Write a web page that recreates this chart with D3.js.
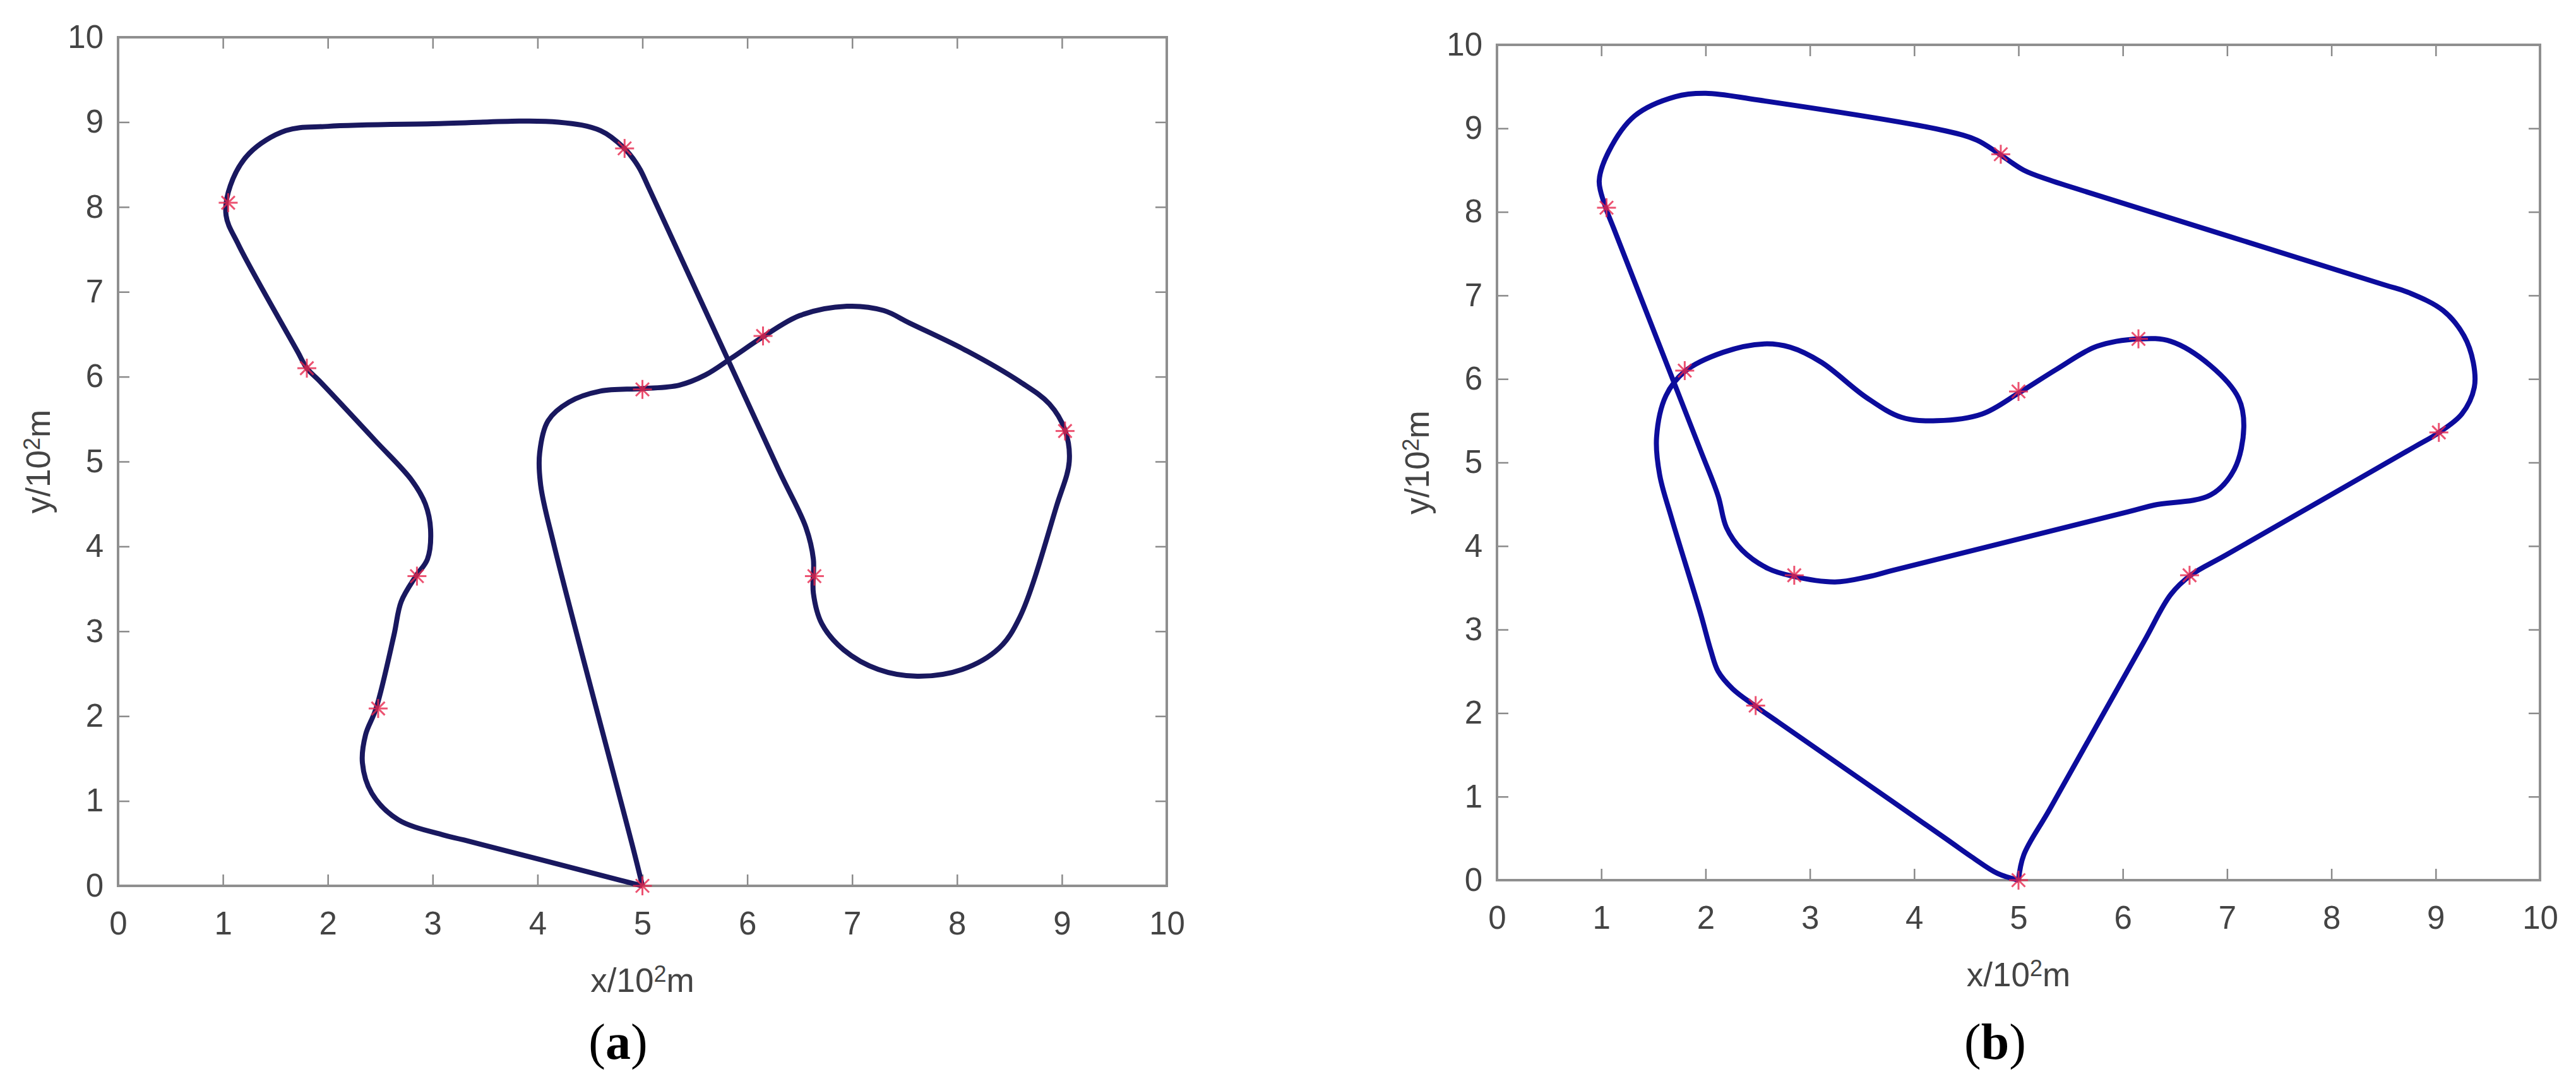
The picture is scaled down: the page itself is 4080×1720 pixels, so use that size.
<!DOCTYPE html>
<html>
<head>
<meta charset="utf-8">
<script src="https://cdn.jsdelivr.net/npm/d3@7"></script>
<style>
  body { margin: 0; background: #fff; }
  svg { display: block; }
</style>
</head>
<body>
<div id="chart"></div>
<script>
// tick values shared by both panels
var ticks = [0, 1, 2, 3, 4, 5, 6, 7, 8, 9, 10];

// waypoints (red asterisks), same in both panels
var wpX = [5.0, 2.48, 2.85, 1.8, 1.05, 4.83, 5.0, 6.15, 9.03, 6.64];
var wpY = [0.0, 2.09, 3.65, 6.1, 8.05, 8.69, 5.85, 6.48, 5.36, 3.65];

// track (a)  (start point listed twice -> sharp corner)
var pathAX = [5.0, 5.0, 4.92, 4.16, 4.03, 4.02, 4.1, 4.3, 4.6, 5.0, 5.35, 5.6, 5.85, 6.15, 6.5, 6.95, 7.3, 7.55, 8.1, 8.6,
  8.88, 9.03, 9.07, 8.95, 8.6, 8.4, 8.05, 7.62, 7.25, 6.92, 6.71, 6.63, 6.63, 6.56, 6.3, 5.07, 4.96, 4.82, 4.6, 4.2,
  3.0, 2.0, 1.6, 1.25, 1.07, 1.03, 1.15, 1.71, 1.8, 1.92, 2.45, 2.8, 2.93, 2.98, 2.95, 2.84, 2.7, 2.63, 2.46, 2.36,
  2.33, 2.42, 2.67, 3.1, 3.3, 4.8];
var pathAY = [0.0, 0.0, 0.4, 4.0, 4.72, 5.1, 5.48, 5.7, 5.83, 5.86, 5.9, 6.02, 6.22, 6.47, 6.72, 6.83, 6.78, 6.63, 6.3, 5.94,
  5.68, 5.37, 5.0, 4.48, 3.17, 2.8, 2.55, 2.47, 2.55, 2.78, 3.09, 3.45, 3.85, 4.22, 4.9, 8.2, 8.48, 8.7, 8.9, 9.0,
  8.98, 8.95, 8.9, 8.63, 8.25, 7.9, 7.55, 6.3, 6.1, 5.95, 5.25, 4.78, 4.5, 4.2, 3.85, 3.65, 3.35, 2.95, 2.09, 1.78,
  1.45, 1.09, 0.78, 0.6, 0.54, 0.063];

// track (b)
var pathBX = [5.0, 5.0, 5.05, 5.3, 6.2, 6.46, 6.65, 7.0, 8.8, 9.02, 9.25, 9.37, 9.36, 9.27, 9.07, 8.75, 8.5, 5.55, 5.3, 5.05,
  4.82, 4.6, 4.3, 2.5, 2.0, 1.71, 1.32, 1.07, 0.98, 1.04, 1.12, 1.95, 2.12, 2.2, 2.35, 2.6, 2.83, 3.24, 3.55, 3.8,
  6.05, 6.3, 6.84, 7.07, 7.16, 7.11, 6.84, 6.46, 6.16, 5.75, 5.37, 5.0, 4.65, 4.22, 3.88, 3.54, 3.11, 2.81, 2.56, 2.17,
  1.8, 1.62, 1.53, 1.56, 1.67, 1.95, 2.05, 2.12, 2.26, 2.47, 2.7, 4.3, 4.55, 4.8];
var pathBY = [0.0, 0.0, 0.3, 0.85, 2.85, 3.42, 3.65, 3.9, 5.19, 5.35, 5.58, 5.9, 6.2, 6.52, 6.82, 7.03, 7.13, 8.28, 8.38, 8.5,
  8.69, 8.86, 8.97, 9.34, 9.42, 9.38, 9.15, 8.72, 8.37, 8.06, 7.8, 5.15, 4.6, 4.22, 3.95, 3.73, 3.64, 3.57, 3.63, 3.71,
  4.41, 4.49, 4.61, 4.92, 5.42, 5.77, 6.16, 6.45, 6.48, 6.39, 6.12, 5.83, 5.58, 5.5, 5.54, 5.78, 6.2, 6.38, 6.42, 6.32,
  6.09, 5.8, 5.3, 4.85, 4.35, 3.2, 2.75, 2.5, 2.29, 2.09, 1.89, 0.5, 0.28, 0.08];

var W = 4080, H = 1720;

var svg = d3.select("#chart")
  .append("svg")
  .attr("width", W)
  .attr("height", H);

svg.append("rect").attr("width", W).attr("height", H).attr("fill", "#fff");

var tickFont = "'Liberation Sans', Arial, sans-serif";

function drawPanel(opt) {
  var x = d3.scaleLinear().domain([0, 10]).range(opt.xr);
  var y = d3.scaleLinear().domain([0, 10]).range(opt.yr);
  var g = svg.append("g");

  var x0 = opt.xr[0], x1 = opt.xr[1], y0 = opt.yr[0], y1 = opt.yr[1];

  // bottom axis with labels, ticks inward
  var bx = g.append("g")
    .attr("transform", "translate(0," + y0 + ")")
    .call(d3.axisBottom(x).tickValues(ticks).tickSizeInner(-18).tickSizeOuter(0).tickPadding(41));
  // left axis
  var ly = g.append("g")
    .attr("transform", "translate(" + x0 + ",0)")
    .call(d3.axisLeft(y).tickValues(ticks).tickSizeInner(-18).tickSizeOuter(0).tickPadding(23));
  // top and right: ticks only
  var tx = g.append("g")
    .attr("transform", "translate(0," + y1 + ")")
    .call(d3.axisTop(x).tickValues(ticks).tickSizeInner(-18).tickSizeOuter(0).tickFormat(""));
  var ry = g.append("g")
    .attr("transform", "translate(" + x1 + ",0)")
    .call(d3.axisRight(y).tickValues(ticks).tickSizeInner(-18).tickSizeOuter(0).tickFormat(""));

  [bx, ly, tx, ry].forEach(function(a) {
    a.select(".domain").remove();
    a.selectAll(".tick line").attr("stroke", "#8a8a8a").attr("stroke-width", 2.5);
    a.selectAll(".tick text")
      .attr("fill", "#444")
      .style("font-family", tickFont)
      .style("font-size", "51px");
  });

  // frame
  g.append("rect")
    .attr("x", x0).attr("y", y1)
    .attr("width", x1 - x0).attr("height", y0 - y1)
    .attr("fill", "none")
    .attr("stroke", "#8f8f8f")
    .attr("stroke-width", 4);

  // track
  var pts = opt.px.map(function(v, i) { return [v, opt.py[i]]; });
  var line = d3.line()
    .x(function(d) { return x(d[0]); })
    .y(function(d) { return y(d[1]); })
    .curve(d3.curveCatmullRomClosed.alpha(0.5));
  g.append("path")
    .datum(pts)
    .attr("d", line)
    .attr("fill", "none")
    .attr("stroke", opt.color)
    .attr("stroke-width", 8)
    .attr("stroke-linejoin", "round");

  // waypoints as '*' markers
  var s = 15;
  var mk = g.selectAll(".wp")
    .data(wpX.map(function(v, i) { return [v, wpY[i]]; }))
    .enter().append("g")
    .attr("transform", function(d) { return "translate(" + x(d[0]) + "," + y(d[1]) + ")"; })
    .attr("stroke", "#e8284e")
    .attr("stroke-width", 3)
    .attr("opacity", 0.8);
  mk.append("line").attr("x1", -s).attr("x2", s).attr("y1", 0).attr("y2", 0);
  mk.append("line").attr("x1", 0).attr("x2", 0).attr("y1", -s).attr("y2", s);
  mk.append("line").attr("x1", -s * 0.7).attr("x2", s * 0.7).attr("y1", -s * 0.7).attr("y2", s * 0.7);
  mk.append("line").attr("x1", -s * 0.7).attr("x2", s * 0.7).attr("y1", s * 0.7).attr("y2", -s * 0.7);

  // x label
  var cx = (x0 + x1) / 2;
  var xl = g.append("text")
    .attr("x", cx)
    .attr("y", y0 + 168)
    .attr("text-anchor", "middle")
    .attr("fill", "#444")
    .style("font-family", tickFont)
    .style("font-size", "53px");
  xl.append("tspan").text("x/10");
  xl.append("tspan").attr("dy", "-0.45em").style("font-size", "36px").text("2");
  xl.append("tspan").attr("dy", "0.3em").text("m");

  // y label
  var lx = x0 - 108, lyc = (y0 + y1) / 2;
  var yl = g.append("text")
    .attr("transform", "translate(" + lx + "," + lyc + ") rotate(-90)")
    .attr("text-anchor", "middle")
    .attr("fill", "#444")
    .style("font-family", tickFont)
    .style("font-size", "53px");
  yl.append("tspan").text("y/10");
  yl.append("tspan").attr("dy", "-0.45em").style("font-size", "36px").text("2");
  yl.append("tspan").attr("dy", "0.3em").text("m");

  // panel letter
  var pl = svg.append("text")
    .attr("x", opt.letterX)
    .attr("y", 1677)
    .attr("text-anchor", "middle")
    .attr("fill", "#000")
    .style("font-family", "'Liberation Serif', 'Times New Roman', serif")
    .style("font-size", "80px");
  pl.append("tspan").text("(");
  pl.append("tspan").style("font-weight", "bold").text(opt.letter);
  pl.append("tspan").text(")");
}

drawPanel({ xr: [187, 1848], yr: [1403, 59], px: pathAX, py: pathAY, color: "#19185f", letter: "a", letterX: 979 });
drawPanel({ xr: [2371, 4023], yr: [1394, 71], px: pathBX, py: pathBY, color: "#0c0c9c", letter: "b", letterX: 3160 });
</script>
</body>
</html>
